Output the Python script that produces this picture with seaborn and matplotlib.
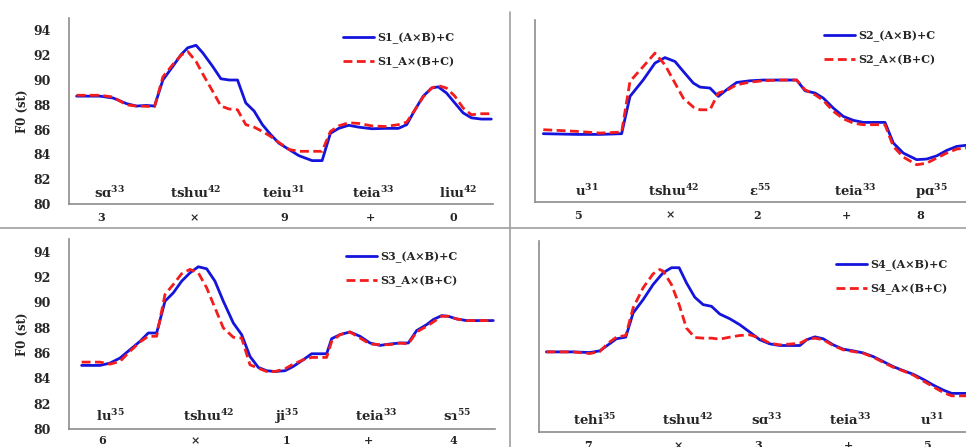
import numpy
import pandas
import seaborn as sns
import matplotlib.pyplot as plt
from matplotlib.lines import Line2D
#------------------------------

#time axis (arbitrary frame units)
t1 = [230,300,340,380,410,440,465,490,520,545,565,590,610,640,665,690,715,740,765,790,815,840,870,900,940,
      970,995,1020,1050,1080,1120,1160,1200,1225,1250,1275,1300,1320,1345,1370,1395,1420,1450,1480]
s1_axb_c = [88.7,88.7,88.55,88.1,87.9,87.95,87.9,90.0,91.1,92.05,92.6,92.8,92.2,91.1,90.1,90.0,90.0,88.15,87.5,86.4,
            85.6,84.9,84.4,83.9,83.5,83.5,85.7,86.1,86.35,86.2,86.07,86.1,86.1,86.4,87.6,88.7,89.35,89.45,88.95,88.15,
            87.35,86.95,86.85,86.85]
s1_a_bc = [88.77,88.77,88.63,88.0,87.9,87.88,87.85,90.25,91.25,92.0,92.3,91.5,90.5,89.1,87.9,87.66,87.6,86.4,86.2,85.85,
           85.45,84.96,84.4,84.25,84.25,84.25,85.85,86.3,86.55,86.5,86.3,86.25,86.4,86.6,87.6,88.65,89.35,89.55,89.35,88.7,
           87.75,87.2,87.28,87.28]
syl1 = ["s\u0251$^{\\mathbf{33}}$", "tsh\u026f$^{\\mathbf{42}}$", "teiu$^{\\mathbf{31}}$", "teia$^{\\mathbf{33}}$", "li\u026f$^{\\mathbf{42}}$"]
syl1_x = [330, 590, 855, 1125, 1380]
dig1 = ["3", "\u00d7", "9", "+", "0"]
dig1_x = [305, 585, 855, 1115, 1365]

t2 = [160,260,330,395,420,460,495,525,555,580,610,630,660,685,710,740,780,820,870,920,945,975,1000,1030,1060,
      1090,1120,1150,1185,1210,1240,1280,1310,1340,1370,1400,1428]
s2_axb_c = [85.63,85.57,85.57,85.63,88.7,90.07,91.45,91.9,91.58,90.76,89.8,89.47,89.39,88.7,89.25,89.85,89.99,90.05,
            90.05,90.05,89.17,88.98,88.56,87.74,87.05,86.73,86.56,86.56,86.56,84.86,84.03,83.49,83.54,83.8,84.25,
            84.58,84.67]
s2_a_bc = [85.96,85.82,85.68,85.76,89.94,91.17,92.27,91.3,89.8,88.56,87.82,87.6,87.6,88.98,89.2,89.66,89.88,89.99,
           90.05,90.05,89.25,88.84,88.37,87.47,86.86,86.5,86.37,86.37,86.37,84.58,83.7,83.07,83.2,83.62,84.03,
           84.36,84.45]
syl2 = ["u$^{\\mathbf{31}}$", "tsh\u026f$^{\\mathbf{42}}$", "\u025b$^{\\mathbf{55}}$", "teia$^{\\mathbf{33}}$", "p\u0251$^{\\mathbf{35}}$"]
syl2_x = [290, 550, 810, 1095, 1325]
dig2 = ["5", "\u00d7", "2", "+", "8"]
dig2_x = [265, 540, 800, 1070, 1290]

t3 = [245,300,330,360,390,420,445,470,495,520,545,570,595,620,645,670,700,725,750,775,800,825,855,880,910,
      935,960,980,995,1020,1050,1080,1110,1140,1170,1200,1225,1250,1280,1300,1325,1345,1370,1400,1430,1480]
s3_axb_c = [85.02,85.02,85.2,85.6,86.26,86.92,87.58,87.58,90.09,90.75,91.67,92.33,92.81,92.65,91.67,90.09,88.37,
            87.45,85.73,84.86,84.6,84.54,84.6,84.94,85.47,85.94,85.94,85.94,87.13,87.45,87.66,87.32,86.79,86.6,
            86.71,86.79,86.79,87.77,88.24,88.64,88.95,88.9,88.69,88.56,88.56,88.56]
s3_a_bc = [85.28,85.28,85.12,85.34,86.13,86.87,87.32,87.32,90.62,91.41,92.26,92.6,92.33,91.15,89.56,87.98,87.24,
           87.18,85.07,84.8,84.54,84.54,84.75,85.12,85.47,85.65,85.65,85.65,86.92,87.45,87.66,87.18,86.71,86.66,
           86.66,86.79,86.71,87.66,88.11,88.45,88.9,88.9,88.69,88.56,88.56,88.56]
syl3 = ["lu$^{\\mathbf{35}}$", "tsh\u026f$^{\\mathbf{42}}$", "ji$^{\\mathbf{35}}$", "teia$^{\\mathbf{33}}$", "s\u027f$^{\\mathbf{55}}$"]
syl3_x = [330, 625, 860, 1130, 1370]
dig3 = ["6", "\u00d7", "1", "+", "4"]
dig3_x = [305, 585, 860, 1105, 1360]

t4 = [170,250,300,330,355,380,408,430,460,490,510,520,545,568,590,615,640,665,690,720,750,780,810,840,870,
      900,930,950,975,1000,1030,1060,1090,1120,1150,1180,1210,1240,1270,1300,1330,1360,1385,1428]
s4_axb_c = [86.29,86.29,86.24,86.37,86.84,87.32,87.45,89.34,90.39,91.58,92.2,92.5,92.9,92.9,91.71,90.58,90.0,
            89.87,89.26,88.89,88.42,87.84,87.24,86.92,86.79,86.79,86.79,87.24,87.47,87.32,86.84,86.5,86.37,86.21,
            85.92,85.53,85.13,84.82,84.53,84.13,83.68,83.29,83.03,83.03]
s4_a_bc = [86.29,86.29,86.16,86.32,86.97,87.45,87.58,89.74,91.32,92.42,92.76,92.63,91.58,90.0,88.16,87.42,87.37,
           87.37,87.29,87.45,87.58,87.63,87.37,86.97,86.84,86.9,86.97,87.24,87.37,87.24,86.79,86.45,86.32,86.18,
           85.87,85.47,85.08,84.79,84.47,84.0,83.55,83.1,82.84,82.84]
syl4 = ["tehi$^{\\mathbf{35}}$", "tsh\u026f$^{\\mathbf{42}}$", "s\u0251$^{\\mathbf{33}}$", "teia$^{\\mathbf{33}}$", "u$^{\\mathbf{31}}$"]
syl4_x = [315, 595, 830, 1080, 1325]
dig4 = ["7", "\u00d7", "3", "+", "5"]
dig4_x = [295, 565, 805, 1075, 1310]

yticks = [80, 82, 84, 86, 88, 90, 92, 94]

#style
sns.set_style("white")
serif = ["DejaVu Serif", "Liberation Serif"]
plt.rcParams["font.family"] = serif
plt.rcParams["font.weight"] = "bold"
plt.rcParams["mathtext.fontset"] = "dejavuserif"

fig = plt.figure(figsize=(9.66, 4.47), dpi=100)

panels = [
    # name, t, blue, red, syl, syl_x, syl_y, dig, dig_x, dig_off, rect, xlim, legend anchor, ylabel
    ("S1", t1, s1_axb_c, s1_a_bc, syl1, syl1_x, 80.9, dig1, dig1_x, -10, [0.0714, 0.5436, 0.4389, 0.4161], (207, 1485), (0.63, 0.96), True),
    ("S2", t2, s2_axb_c, s2_a_bc, syl2, syl2_x, 80.9, dig2, dig2_x, -9.5, [0.5538, 0.5481, 0.4462, 0.4072], (135, 1428), (0.655, 0.98), False),
    ("S3", t3, s3_axb_c, s3_a_bc, syl3, syl3_x, 81.0, dig3, dig3_x, -8.5, [0.0714, 0.0403, 0.4410, 0.4250], (207, 1485), (0.635, 0.97), True),
    ("S4", t4, s4_axb_c, s4_a_bc, syl4, syl4_x, 80.9, dig4, dig4_x, -10, [0.5580, 0.0336, 0.4420, 0.4273], (148, 1428), (0.68, 0.94), False),
]

for name, t, blue, red, syl, syl_x, syl_y, dig, dig_x, dig_off, rect, xlim, anchor, ylab in panels:
    ax = fig.add_axes(rect)
    sns.lineplot(x=t, y=blue, ax=ax, color="#1414dc", linewidth=2, label=name + "_(A\u00d7B)+C")
    sns.lineplot(x=t, y=red, ax=ax, color="#f41c1c", linewidth=2, linestyle=(0, (3.2, 1.6)), label=name + "_A\u00d7(B+C)")
    ax.set_xlim(xlim)
    ax.set_ylim(80, 95)
    ax.set_yticks(yticks)
    ax.set_xticks([])
    for s in ["top", "right"]:
        ax.spines[s].set_visible(False)
    for s in ["left", "bottom"]:
        ax.spines[s].set_color("#8c8c8c")
        ax.spines[s].set_linewidth(1.2)
    ax.tick_params(axis="y", direction="out", length=4, color="#8c8c8c", pad=9, labelsize=9)
    if ylab:
        ax.set_ylabel("F0 (st)", fontsize=8.5, fontweight="bold", labelpad=3)
        for lab in ax.get_yticklabels():
            lab.set_fontweight("bold")
    else:
        ax.set_yticklabels([])
    for s, x in zip(syl, syl_x):
        ax.text(x, syl_y, s, ha="center", va="center", fontsize=9.5, fontweight="bold")
    for d, x in zip(dig, dig_x):
        ax.annotate(d, (x, 80), xytext=(0, dig_off), textcoords="offset points",
                    ha="center", va="center", fontsize=8, fontweight="bold", annotation_clip=False)
    ax.legend(loc="upper left", bbox_to_anchor=anchor, frameon=False,
              handlelength=2.8, handletextpad=0.3, labelspacing=1.05, borderpad=0.1,
              prop={"family": serif, "weight": "bold", "size": 8})

#panel dividers
fig.add_artist(Line2D([0, 1], [1 - 228 / 447] * 2, transform=fig.transFigure, color="#a0a0a0", linewidth=1.2))
fig.add_artist(Line2D([510 / 966] * 2, [0, 1 - 12 / 447], transform=fig.transFigure, color="#a0a0a0", linewidth=1.2))

fig.savefig("out.png", dpi=100)
